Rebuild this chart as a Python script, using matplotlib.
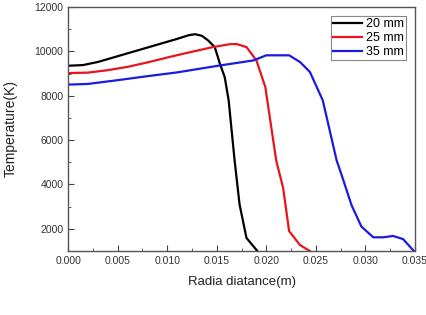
import matplotlib.pyplot as plt
from matplotlib.ticker import MultipleLocator, FormatStrFormatter

plt.rcParams['font.family'] = ['Liberation Sans', 'DejaVu Sans']

# radial distance (m) and temperature (K)
r_20 = [0.0, 0.0015, 0.003, 0.005, 0.007, 0.009, 0.011, 0.0122, 0.0128, 0.0135, 0.0141,
        0.0148, 0.0153, 0.0158, 0.0162, 0.0168, 0.0173, 0.0180, 0.0191]
t_20 = [9350, 9380, 9520, 9780, 10040, 10300, 10560, 10730, 10770, 10700, 10500,
        10190, 9460, 8840, 7790, 5080, 3100, 1590, 1000]

r_25 = [0.0, 0.002, 0.004, 0.006, 0.008, 0.010, 0.012, 0.0146, 0.0163, 0.0170, 0.0180,
        0.0190, 0.0199, 0.0210, 0.0217, 0.0223, 0.0234, 0.0244]
t_25 = [9020, 9040, 9150, 9300, 9500, 9720, 9930, 10190, 10320, 10330, 10190,
        9590, 8390, 5080, 3840, 1900, 1270, 1000]

r_35 = [0.0, 0.002, 0.005, 0.008, 0.011, 0.0150, 0.0187, 0.0200, 0.0223, 0.0234,
        0.0244, 0.0257, 0.0271, 0.0276, 0.0286, 0.0296, 0.0308, 0.0318, 0.0328, 0.0338, 0.0349]
t_35 = [8500, 8530, 8700, 8880, 9050, 9340, 9590, 9820, 9820, 9520,
        9070, 7790, 5080, 4430, 3070, 2100, 1620, 1620, 1680, 1540, 1000]

fig = plt.figure(figsize=(4.26, 3.15), dpi=100)
ax = fig.add_axes([0.16, 0.203, 0.814, 0.775])

ax.plot(r_20, t_20, color='black', lw=1.6, label='20 mm')
ax.plot(r_25, t_25, color='#e8141c', lw=1.6, label='25 mm')
ax.plot(r_35, t_35, color='#1a1ae0', lw=1.6, label='35 mm')

ax.set_xlim(0, 0.035)
ax.set_ylim(1000, 12000)
ax.xaxis.set_major_locator(MultipleLocator(0.005))
ax.xaxis.set_minor_locator(MultipleLocator(0.0025))
ax.xaxis.set_major_formatter(FormatStrFormatter('%.3f'))
ax.yaxis.set_major_locator(MultipleLocator(2000))
ax.yaxis.set_minor_locator(MultipleLocator(1000))
ax.tick_params(which='both', direction='in', labelsize=7.5, color='#444444', labelcolor='#333333')
ax.tick_params(which='major', length=4)
ax.tick_params(which='minor', length=2.5)
for s in ax.spines.values():
    s.set_color('#555555')
    s.set_linewidth(1.0)

ax.set_xlabel('Radia diatance(m)', fontsize=9.5, color='#222222', labelpad=7)
ax.set_ylabel('Temperature(K)', fontsize=10, color='#222222', labelpad=12)

leg = ax.legend(loc='upper right', fontsize=9, fancybox=False, framealpha=1,
                handlelength=2.3, handletextpad=0.3, borderpad=0.15, labelspacing=0.15,
                borderaxespad=0.75)
leg.get_frame().set_edgecolor('#888888')
leg.get_frame().set_linewidth(0.8)

fig.savefig('out.png', dpi=100)
